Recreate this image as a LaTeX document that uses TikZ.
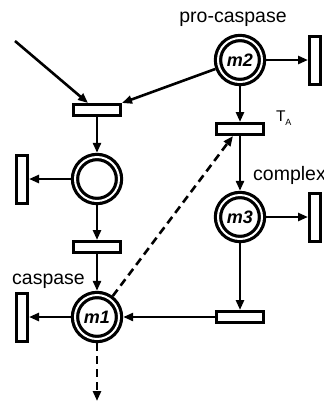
\documentclass[tikz,border=0pt]{standalone}
\usepackage{fontspec}
\setmainfont{Liberation Sans}
\usetikzlibrary{arrows.meta}
\begin{document}
\begin{tikzpicture}[x=1pt,y=-1pt,
  place/.style={circle,draw,line width=3.2pt,double=white,double distance=2pt,
    minimum size=44pt,inner sep=0pt,outer sep=4.2pt,
    font=\fontsize{18}{18}\selectfont\bfseries\itshape},
  trans/.style={rectangle,draw,line width=3pt,minimum width=47pt,minimum height=11pt,inner sep=0pt},
  sink/.style={rectangle,draw,line width=3pt,minimum width=11pt,minimum height=48pt,inner sep=0pt},
  arc/.style={line width=2.6pt,-{Triangle[length=10pt,width=8pt]}},
  inhib/.style={arc,dash pattern=on 8pt off 5pt},
  lbl/.style={font=\fontsize{19.5}{19.5}\selectfont,inner sep=0pt}]
\useasboundingbox (0,0) rectangle (324,402);
\clip (0,0) rectangle (324,402);

% places
\node[place] (m2) at (240,60) {m2};
\node[place] (mid) at (97,179) {};
\node[place] (m3) at (240,217) {m3};
\node[place] (m1) at (97,317) {m1};

% transitions
\node[trans] (tl) at (97,110) {};
\node[trans] (t2) at (97,247) {};
\node[trans] (TA) at (240,129) {};
\node[trans] (br) at (240,317) {};

% degradation sinks
\node[sink] (s2) at (315,60) {};
\node[sink] (smid) at (22,179) {};
\node[sink] (s3) at (315,217) {};
\node[sink] (s1) at (22,317) {};

% labels
\node[lbl,anchor=base] (lpro) at (233,22) {pro-caspase};
\node[lbl,anchor=base west] (lcx) at (253,180) {complex};
\node[lbl,anchor=base west] (lcs) at (12,284) {caspase};
\node[inner sep=0pt,anchor=base west,font=\fontsize{15.5}{15.5}\selectfont] (lta) at (276,121) {T\kern-0.3pt\raisebox{-4pt}{\fontsize{9}{9}\selectfont A}};

% free ends
\coordinate (in) at (15,41);
\coordinate (out) at (97,401);

% arcs
\draw[arc] (in) -- ([xshift=-9pt]tl.north);
\draw[arc] (m2) -- (tl.north east);
\draw[arc] (m2) -- (TA);
\draw[arc] (m2) -- (s2);
\draw[arc] (tl) -- (mid);
\draw[arc] (mid) -- (smid);
\draw[arc] (mid) -- (t2);
\draw[arc] (t2) -- (m1);
\draw[arc] (TA) -- (m3);
\draw[arc] (m3) -- (s3);
\draw[arc] (m3) -- (br);
\draw[arc] (br) -- (m1);
\draw[arc] (m1) -- (s1);

% dashed activation arcs
\draw[inhib] (m1) -- ([xshift=-7pt]TA.south);
\draw[inhib] (m1) -- (out);
\end{tikzpicture}
\end{document}
